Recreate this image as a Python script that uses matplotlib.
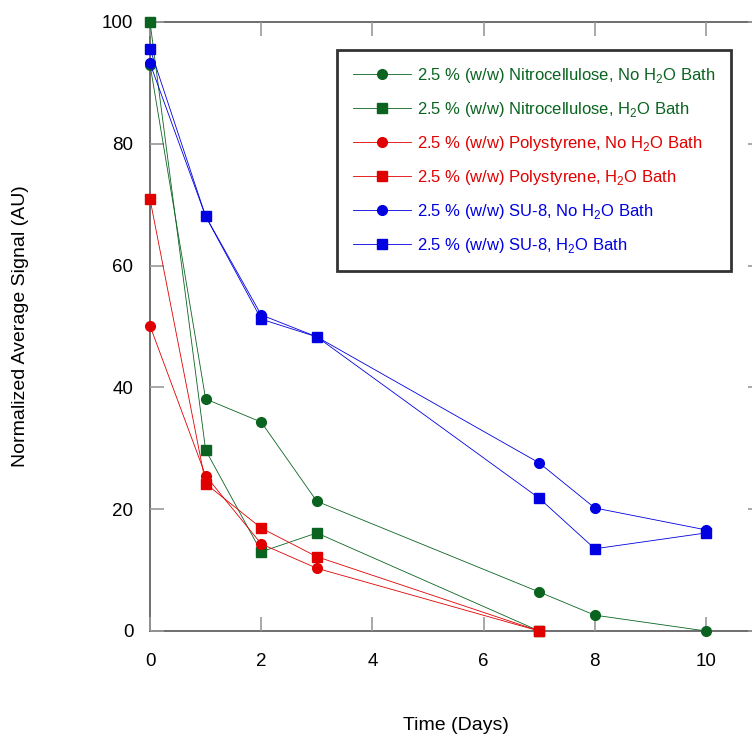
import matplotlib
matplotlib.use("Agg")
import matplotlib.pyplot as plt

plt.rcParams['font.family'] = ['Liberation Sans', 'DejaVu Sans']
plt.rcParams['mathtext.fontset'] = 'custom'
plt.rcParams['mathtext.rm'] = 'Liberation Sans'

days = [0, 1, 2, 3, 7, 8, 10]
days_short = [0, 1, 2, 3, 7]

nc_no_bath = [93.0, 38.1, 34.3, 21.3, 6.4, 2.6, 0.0]
nc_bath = [100.0, 29.7, 13.0, 16.1, 0.0]
ps_no_bath = [50.1, 25.5, 14.3, 10.3, 0.0]
ps_bath = [70.9, 24.2, 16.9, 12.2, 0.0]
su8_no_bath = [93.2, 68.1, 51.9, 48.3, 27.6, 20.2, 16.6]
su8_bath = [95.6, 68.1, 51.2, 48.3, 21.8, 13.5, 16.1]

green = '#0a6420'
red = '#e00000'
blue = '#0000e0'

fig = plt.figure(figsize=(7.52, 7.35), dpi=100)
ax = fig.add_axes([0.1995, 0.1415, 0.8133, 0.8286])

lw = 0.6
ax.plot(days, nc_no_bath, color=green, marker='o', lw=lw, ms=7,
        label='2.5 % (w/w) Nitrocellulose, No H$_2$O Bath')
ax.plot(days_short, nc_bath, color=green, marker='s', lw=lw, ms=7,
        label='2.5 % (w/w) Nitrocellulose, H$_2$O Bath')
ax.plot(days_short, ps_no_bath, color=red, marker='o', lw=lw, ms=7,
        label='2.5 % (w/w) Polystyrene, No H$_2$O Bath')
ax.plot(days_short, ps_bath, color=red, marker='s', lw=lw, ms=7,
        label='2.5 % (w/w) Polystyrene, H$_2$O Bath')
ax.plot(days, su8_no_bath, color=blue, marker='o', lw=lw, ms=7,
        label='2.5 % (w/w) SU-8, No H$_2$O Bath')
ax.plot(days, su8_bath, color=blue, marker='s', lw=lw, ms=7,
        label='2.5 % (w/w) SU-8, H$_2$O Bath')

ax.set_xlim(0, 11)
ax.set_ylim(0, 100)
ax.set_xticks([0, 2, 4, 6, 8, 10])
ax.set_yticks([0, 20, 40, 60, 80, 100])
for sp in ax.spines.values():
    sp.set_color('#555555')
    sp.set_linewidth(1.2)
    sp.set_zorder(0)
ax.tick_params(direction='in', length=10, width=1.2, color='#999999',
               top=True, right=True, labelsize=13.5)
ax.tick_params(axis='y', pad=12)
ax.tick_params(axis='x', pad=16)
for line in ax.lines:
    line.set_clip_on(False)

ax.set_xlabel('Time (Days)', fontsize=14)
ax.set_ylabel('Normalized Average Signal (AU)', fontsize=14)
ax.xaxis.set_label_coords(0.5, -0.142)
ax.yaxis.set_label_coords(-0.198, 0.5)

leg = ax.legend(loc='upper left', bbox_to_anchor=(0.3058, 0.954),
                borderaxespad=0, fontsize=12, frameon=True, fancybox=False,
                edgecolor='black', handlelength=3.5, labelspacing=0.9,
                borderpad=0.95, handletextpad=0.35)
leg.get_frame().set_linewidth(2)
for txt, line in zip(leg.get_texts(), leg.get_lines()):
    txt.set_color(line.get_color())

fig.savefig('out.png', dpi=100)
